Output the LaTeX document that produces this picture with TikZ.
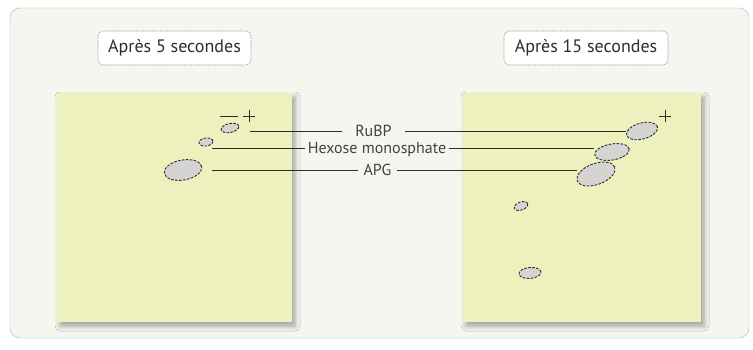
\documentclass[tikz,border=0pt]{standalone}
\usepackage{fontspec}
\setmainfont{PT Sans}
\usetikzlibrary{shapes.geometric,shadows.blur}
\definecolor{plate}{RGB}{238,240,190}
\definecolor{panel}{RGB}{246,246,241}
\definecolor{spotfill}{RGB}{212,212,210}
\definecolor{ink}{RGB}{45,45,45}
\begin{document}
\begin{tikzpicture}[x=1pt,y=-1pt,
  titlebox/.style={draw=gray!80,dash pattern=on 1pt off 0.7pt,line width=0.6pt,rounded corners=5pt,fill=white,
    minimum width=153pt,minimum height=34pt,font=\fontsize{18}{20}\selectfont,text=ink},
  platebox/.style={fill=plate,blur shadow={shadow xshift=3pt,shadow yshift=-4pt,shadow blur radius=5pt,shadow opacity=35}},
  spot/.style={ellipse,draw=ink,dash pattern=on 2.6pt off 1.4pt,line width=0.9pt,fill=spotfill,inner sep=0pt},
  lab/.style={font=\fontsize{16}{18}\selectfont,text=ink!90,inner ysep=1pt,text height=11pt,text depth=0pt},
  conn/.style={draw=ink,line width=0.9pt},
  signmark/.style={draw=ink,line width=0.9pt}]
\useasboundingbox (0,0) rectangle (753,350);
\fill[white] (0,0) rectangle (753,350);
\draw[gray!60,fill=panel,rounded corners=10pt] (10,8) rectangle (749,338);
% plates
\node[platebox,minimum width=235pt,minimum height=229pt,inner sep=0pt] (plateL) at (174.5,207.5) {};
\node[platebox,minimum width=238pt,minimum height=229pt,inner sep=0pt] (plateR) at (582,207.5) {};
% titles
\node[titlebox] (t1) at (174.5,48) {Après 5 secondes};
\node[titlebox,minimum width=164pt] (t2) at (586,48) {Après 15 secondes};
% spots left
\node[spot,minimum width=18pt,minimum height=9pt,rotate=12] (rL) at (230,128) {};
\node[spot,minimum width=14pt,minimum height=8pt,rotate=8] (hL) at (206,142) {};
\node[spot,minimum width=38pt,minimum height=20pt,rotate=10] (aL) at (183,170) {};
% spots right
\node[spot,minimum width=32pt,minimum height=16pt,rotate=15] (rR) at (642,131) {};
\node[spot,minimum width=35pt,minimum height=16pt,rotate=10] (hR) at (612,152) {};
\node[spot,minimum width=40pt,minimum height=21pt,rotate=20] (aR) at (596,174) {};
\node[spot,minimum width=14pt,minimum height=8pt,rotate=20] (s4) at (521,206) {};
\node[spot,minimum width=22pt,minimum height=11pt,rotate=5] (s5) at (530,273) {};
% marks
\draw[signmark] (220,116) -- (238,116);
\draw[signmark] (243,116) -- (255,116) (249,110) -- (249,122);
\draw[signmark] (659,116) -- (671,116) (665,110) -- (665,122);
% labels
\node[lab,inner xsep=13pt] (lr) at (373.5,131) {RuBP};
\node[lab,inner xsep=3pt] (lh) at (377,148) {Hexose monosphate};
\node[lab,inner xsep=5pt] (la) at (377.5,170) {APG};
% connectors
\coordinate (cr) at (250,131);
\coordinate (ch) at (212,148);
\coordinate (ca) at (212,170);
\draw[conn] (cr) -- (lr.west);
\draw[conn] (ch) -- (lh.west);
\draw[conn] (ca) -- (la.west);
\draw[conn] (lr.east) -- (rR.west |- lr.east);
\draw[conn] (lh.east) -- (hR.west |- lh.east);
\draw[conn] (la.east) -- (aR.west |- la.east);
\end{tikzpicture}
\end{document}
